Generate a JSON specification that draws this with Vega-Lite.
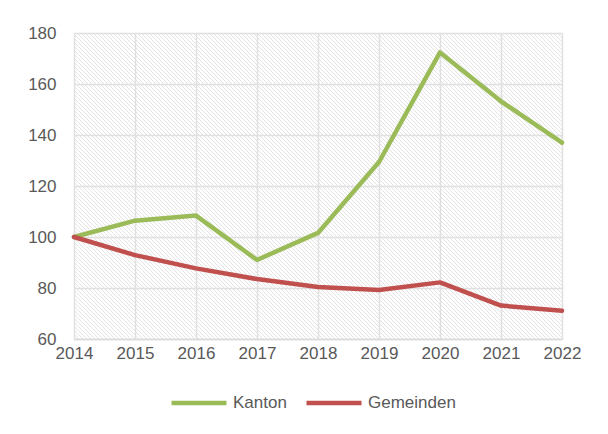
{
  "$schema": "https://vega.github.io/schema/vega-lite/v6.json",
  "autosize": "none",
  "width": 488,
  "height": 306,
  "padding": {"left": 74, "top": 33, "right": 46, "bottom": 95},
  "background": "white",
  "config": {
    "font": "Liberation Sans",
    "view": {"stroke": null},
    "axis": {
      "labelFont": "Liberation Sans",
      "labelFontSize": 17,
      "labelColor": "#595959",
      "ticks": false,
      "tickSize": 0,
      "title": null,
      "gridColor": "#e0e0e0",
      "gridWidth": 1.5,
      "domain": false,
      "labelFlush": false
    }
  },
  "data": {
    "values": [
      {"Jahr": 2014, "Serie": "Kanton", "Wert": 100},
      {"Jahr": 2015, "Serie": "Kanton", "Wert": 106.4},
      {"Jahr": 2016, "Serie": "Kanton", "Wert": 108.4},
      {"Jahr": 2017, "Serie": "Kanton", "Wert": 91},
      {"Jahr": 2018, "Serie": "Kanton", "Wert": 101.6},
      {"Jahr": 2019, "Serie": "Kanton", "Wert": 129.4},
      {"Jahr": 2020, "Serie": "Kanton", "Wert": 172.4},
      {"Jahr": 2021, "Serie": "Kanton", "Wert": 153.2},
      {"Jahr": 2022, "Serie": "Kanton", "Wert": 137},
      {"Jahr": 2014, "Serie": "Gemeinden", "Wert": 100},
      {"Jahr": 2015, "Serie": "Gemeinden", "Wert": 92.9},
      {"Jahr": 2016, "Serie": "Gemeinden", "Wert": 87.7},
      {"Jahr": 2017, "Serie": "Gemeinden", "Wert": 83.5},
      {"Jahr": 2018, "Serie": "Gemeinden", "Wert": 80.4},
      {"Jahr": 2019, "Serie": "Gemeinden", "Wert": 79.2},
      {"Jahr": 2020, "Serie": "Gemeinden", "Wert": 82.2},
      {"Jahr": 2021, "Serie": "Gemeinden", "Wert": 73.1},
      {"Jahr": 2022, "Serie": "Gemeinden", "Wert": 71.1}
    ]
  },
  "layer": [
    {
      "data": {"values": [{"Muster": 1}]},
      "mark": {
        "type": "point",
        "shape": "M-2.27,-0.63l1.3,1.3m-1.2836,-1.3l1.3,1.3m-1.2836,-1.3l1.3,1.3m-1.2836,-1.3l1.3,1.3m-1.2836,-1.3l1.3,1.3m-1.2836,-1.3l1.3,1.3m-1.2836,-1.3l1.3,1.3m-1.2836,-1.3l1.3,1.3m-1.2836,-1.3l1.3,1.3m-1.2836,-1.3l1.3,1.3m-1.2836,-1.3l1.3,1.3m-1.2836,-1.3l1.3,1.3m-1.2836,-1.3l1.3,1.3m-1.2836,-1.3l1.3,1.3m-1.2836,-1.3l1.3,1.3m-1.2836,-1.3l1.3,1.3m-1.2836,-1.3l1.3,1.3m-1.2836,-1.3l1.3,1.3m-1.2836,-1.3l1.3,1.3m-1.2836,-1.3l1.3,1.3m-1.2836,-1.3l1.3,1.3m-1.2836,-1.3l1.3,1.3m-1.2836,-1.3l1.3,1.3m-1.2836,-1.3l1.3,1.3m-1.2836,-1.3l1.3,1.3m-1.2836,-1.3l1.3,1.3m-1.2836,-1.3l1.3,1.3m-1.2836,-1.3l1.3,1.3m-1.2836,-1.3l1.3,1.3m-1.2836,-1.3l1.3,1.3m-1.2836,-1.3l1.3,1.3m-1.2836,-1.3l1.3,1.3m-1.2836,-1.3l1.3,1.3m-1.2836,-1.3l1.3,1.3m-1.2836,-1.3l1.3,1.3m-1.2836,-1.3l1.3,1.3m-1.2836,-1.3l1.3,1.3m-1.2836,-1.3l1.3,1.3m-1.2836,-1.3l1.3,1.3m-1.2836,-1.3l1.3,1.3m-1.2836,-1.3l1.3,1.3m-1.2836,-1.3l1.3,1.3m-1.2836,-1.3l1.3,1.3m-1.2836,-1.3l1.3,1.3m-1.2836,-1.3l1.3,1.3m-1.2836,-1.3l1.3,1.3m-1.2836,-1.3l1.3,1.3m-1.2836,-1.3l1.3,1.3m-1.2836,-1.3l1.3,1.3m-1.2836,-1.3l1.3,1.3m-1.2836,-1.3l1.3,1.3m-1.2836,-1.3l1.3,1.3m-1.2836,-1.3l1.3,1.3m-1.2836,-1.3l1.3,1.3m-1.2836,-1.3l1.3,1.3m-1.2836,-1.3l1.3,1.3m-1.2836,-1.3l1.3,1.3m-1.2836,-1.3l1.3,1.3m-1.2836,-1.3l1.3,1.3m-1.2836,-1.3l1.3,1.3m-1.2836,-1.3l1.3,1.3m-1.2836,-1.3l1.3,1.3m-1.2836,-1.3l1.3,1.3m-1.2836,-1.3l1.3,1.3m-1.2836,-1.3l1.3,1.3m-1.2836,-1.3l1.3,1.3m-1.2836,-1.3l1.3,1.3m-1.2836,-1.3l1.3,1.3m-1.2836,-1.3l1.3,1.3m-1.2836,-1.3l1.3,1.3m-1.2836,-1.3l1.3,1.3m-1.2836,-1.3l1.3,1.3m-1.2836,-1.3l1.3,1.3m-1.2836,-1.3l1.3,1.3m-1.2836,-1.3l1.3,1.3m-1.2836,-1.3l1.3,1.3m-1.2836,-1.3l1.3,1.3m-1.2836,-1.3l1.3,1.3m-1.2836,-1.3l1.3,1.3m-1.2836,-1.3l1.3,1.3m-1.2836,-1.3l1.3,1.3m-1.2836,-1.3l1.3,1.3m-1.2836,-1.3l1.3,1.3m-1.2836,-1.3l1.3,1.3m-1.2836,-1.3l1.3,1.3m-1.2836,-1.3l1.3,1.3m-1.2836,-1.3l1.3,1.3m-1.2836,-1.3l1.3,1.3m-1.2836,-1.3l1.3,1.3m-1.2836,-1.3l1.3,1.3m-1.2836,-1.3l1.3,1.3m-1.2836,-1.3l1.3,1.3m-1.2836,-1.3l1.3,1.3m-1.2836,-1.3l1.3,1.3m-1.2836,-1.3l1.3,1.3m-1.2836,-1.3l1.3,1.3m-1.2836,-1.3l1.3,1.3m-1.2836,-1.3l1.3,1.3m-1.2836,-1.3l1.3,1.3m-1.2836,-1.3l1.3,1.3m-1.2836,-1.3l1.3,1.3m-1.2836,-1.3l1.3,1.3m-1.2836,-1.3l1.3,1.3m-1.2836,-1.3l1.3,1.3m-1.2836,-1.3l1.3,1.3m-1.2836,-1.3l1.3,1.3m-1.2836,-1.3l1.3,1.3m-1.2836,-1.3l1.3,1.3m-1.2836,-1.3l1.3,1.3m-1.2836,-1.3l1.3,1.3m-1.2836,-1.3l1.3,1.3m-1.2836,-1.3l1.3,1.3m-1.2836,-1.3l1.3,1.3m-1.2836,-1.3l1.3,1.3m-1.2836,-1.3l1.3,1.3m-1.2836,-1.3l1.3,1.3m-1.2836,-1.3l1.3,1.3m-1.2836,-1.3l1.3,1.3m-1.2836,-1.3l1.3,1.3m-1.2836,-1.3l1.3,1.3m-1.2836,-1.3l1.3,1.3m-1.2836,-1.3l1.3,1.3m-1.2836,-1.3l1.3,1.3m-1.2836,-1.3l1.3,1.3m-1.2836,-1.3l1.3,1.3m-1.2836,-1.3l1.3,1.3m-1.2836,-1.3l1.3,1.3m-1.2836,-1.3l1.3,1.3m-1.2836,-1.3l1.3,1.3m-1.2836,-1.3l1.3,1.3m-1.2836,-1.3l1.3,1.3m-1.2836,-1.3l1.3,1.3m-1.2836,-1.3l1.3,1.3m-1.2836,-1.3l1.3,1.3m-1.2836,-1.3l1.3,1.3m-1.2836,-1.3l1.3,1.3m-1.2836,-1.3l1.3,1.3m-1.2836,-1.3l1.3,1.3m-1.2836,-1.3l1.3,1.3m-1.2836,-1.3l1.3,1.3m-1.2836,-1.3l1.3,1.3m-1.2836,-1.3l1.3,1.3m-1.2836,-1.3l1.3,1.3m-1.2836,-1.3l1.3,1.3m-1.2836,-1.3l1.3,1.3m-1.2836,-1.3l1.3,1.3m-1.2836,-1.3l1.3,1.3m-1.2836,-1.3l1.3,1.3m-1.2836,-1.3l1.3,1.3m-1.2836,-1.3l1.3,1.3m-1.2836,-1.3l1.3,1.3m-1.2836,-1.3l1.3,1.3m-1.2836,-1.3l1.3,1.3m-1.2836,-1.3l1.3,1.3m-1.2836,-1.3l1.3,1.3m-1.2836,-1.3l1.3,1.3m-1.2836,-1.3l1.3,1.3m-1.2836,-1.3l1.3,1.3m-1.2836,-1.3l1.3,1.3m-1.2836,-1.3l1.3,1.3m-1.2836,-1.3l1.3,1.3m-1.2836,-1.3l1.3,1.3m-1.2836,-1.3l1.3,1.3m-1.2836,-1.3l1.3,1.3m-1.2836,-1.3l1.3,1.3m-1.2836,-1.3l1.3,1.3m-1.2836,-1.3l1.3,1.3m-1.2836,-1.3l1.3,1.3m-1.2836,-1.3l1.3,1.3m-1.2836,-1.3l1.3,1.3m-1.2836,-1.3l1.3,1.3m-1.2836,-1.3l1.3,1.3m-1.2836,-1.3l1.3,1.3m-1.2836,-1.3l1.3,1.3m-1.2836,-1.3l1.3,1.3m-1.2836,-1.3l1.3,1.3m-1.2836,-1.3l1.3,1.3m-1.2836,-1.3l1.3,1.3m-1.2836,-1.3l1.3,1.3m-1.2836,-1.3l1.3,1.3m-1.2836,-1.3l1.3,1.3m-1.2836,-1.3l1.3,1.3m-1.2836,-1.3l1.3,1.3m-1.2836,-1.3l1.3,1.3m-1.2836,-1.3l1.3,1.3m-1.2836,-1.3l1.3,1.3m-1.2836,-1.3l1.3,1.3m-1.2836,-1.3l1.3,1.3m-1.2836,-1.3l1.3,1.3m-1.2836,-1.3l1.3,1.3m-1.2836,-1.3l1.3,1.3m-1.2836,-1.3l1.3,1.3m-1.2836,-1.3l1.3,1.3m-1.2836,-1.3l1.3,1.3m-1.2836,-1.3l1.3,1.3m-1.2836,-1.3l1.3,1.3m-1.2836,-1.3l1.3,1.3m-1.2836,-1.3l1.3,1.3m-1.2836,-1.3l1.3,1.3m-1.2836,-1.3l1.3,1.3m-1.2836,-1.3l1.3,1.3",
        "size": 238144,
        "filled": false,
        "stroke": "#e2e2e2",
        "strokeWidth": 1,
        "opacity": 1,
        "clip": true
      },
      "encoding": {
        "x": {"datum": 2018, "type": "quantitative"},
        "y": {"datum": 120, "type": "quantitative"}
      }
    },
    {
      "mark": {"type": "line", "strokeWidth": 4.5, "strokeCap": "round", "strokeJoin": "round"},
      "encoding": {
        "x": {
          "field": "Jahr",
          "type": "quantitative",
          "scale": {"domain": [2014, 2022], "nice": false, "zero": false},
          "axis": {
            "values": [2014, 2014.5, 2015, 2015.5, 2016, 2016.5, 2017, 2017.5, 2018, 2018.5, 2019, 2019.5, 2020, 2020.5, 2021, 2021.5, 2022],
            "labelExpr": "datum.value % 1 === 0 ? '' + datum.value : ''",
            "labelOverlap": false,
            "labelFlush": false,
            "labelPadding": 6,
            "domain": true,
            "domainColor": "#d9d9d9",
            "domainWidth": 1.5,
            "grid": true
          }
        },
        "y": {
          "field": "Wert",
          "type": "quantitative",
          "scale": {"domain": [60, 180], "nice": false, "zero": false},
          "axis": {"values": [60, 80, 100, 120, 140, 160, 180], "labelPadding": 18, "labelFlush": false, "grid": true}
        },
        "color": {
          "field": "Serie",
          "type": "nominal",
          "scale": {"domain": ["Kanton", "Gemeinden"], "range": ["#9BBB59", "#C0504D"]},
          "legend": {
            "orient": "none",
            "legendX": 95,
            "legendY": 340,
            "direction": "horizontal",
            "title": null,
            "symbolType": "stroke",
            "symbolSize": 3025,
            "symbolStrokeWidth": 4.5,
            "labelFont": "Liberation Sans",
            "labelFontSize": 17,
            "labelColor": "#595959",
            "labelOffset": 4,
            "columnPadding": 10
          }
        }
      }
    }
  ]
}
